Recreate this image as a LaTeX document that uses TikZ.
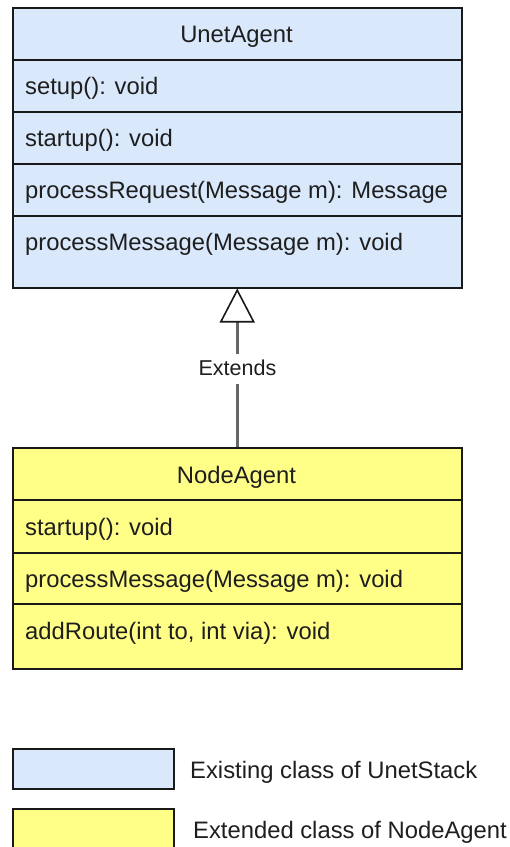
\documentclass[tikz,border=0pt]{standalone}
\usepackage{fontspec}
\setmainfont{Liberation Sans}
\usetikzlibrary{arrows.meta}
\definecolor{ublue}{HTML}{DAE8FC}
\definecolor{uyellow}{HTML}{FFFF88}
\definecolor{txt}{HTML}{1E1E1E}
\definecolor{conn}{HTML}{666666}
\begin{document}
\begin{tikzpicture}[x=1pt,y=-1pt,
  comp/.style={draw=black!90, line width=1.5pt, inner sep=0pt, anchor=north west, minimum width=449pt},
  lbl/.style={font=\fontsize{23.8}{28}\selectfont, text=txt, inner sep=0pt, text height=17pt, text depth=5pt},
  elbl/.style={font=\fontsize{21.5}{26}\selectfont, text=txt, fill=white, inner xsep=1pt, inner ysep=4pt, text height=17pt, text depth=5pt},
  ext/.style={draw=conn, line width=2.6pt, -{Triangle[open, length=34pt, width=35pt, line width=1.6pt, color=black!90]}},
  legbox/.style={draw=black!90, line width=1.5pt, inner sep=0pt, anchor=north west, minimum width=161pt, minimum height=40pt}
]
\useasboundingbox (0,0) rectangle (510,847);
\clip (0,0) rectangle (510,847);

% UnetAgent class
\node[comp, fill=ublue, minimum height=52pt] (u0) at (12,7) {};
\node[comp, fill=ublue, minimum height=52pt] (u1) at (12,59) {};
\node[comp, fill=ublue, minimum height=52pt] (u2) at (12,111) {};
\node[comp, fill=ublue, minimum height=52pt] (u3) at (12,163) {};
\node[comp, fill=ublue, minimum height=72pt] (u4) at (12,215) {};
\node[lbl] (ut) at (236.5,36) {UnetAgent};
\node[lbl, anchor=west] (ua) at (25,88) {setup(): void};
\node[lbl, anchor=west] (ub) at (25,140) {startup(): void};
\node[lbl, anchor=west] (uc) at (25,192) {processRequest(Message m): Message};
\node[lbl, anchor=west] (ud) at (25,244) {processMessage(Message m): void};

% NodeAgent class
\node[comp, fill=uyellow, minimum height=52pt] (n0) at (12,447) {};
\node[comp, fill=uyellow, minimum height=53pt] (n1) at (12,499) {};
\node[comp, fill=uyellow, minimum height=51pt] (n2) at (12,552) {};
\node[comp, fill=uyellow, minimum height=65pt] (n3) at (12,603) {};
\node[lbl] (nt) at (236.5,477) {NodeAgent};
\node[lbl, anchor=west] (na) at (25,529) {startup(): void};
\node[lbl, anchor=west] (nb) at (25,581) {processMessage(Message m): void};
\node[lbl, anchor=west] (nc) at (25,633) {addRoute(int to, int via): void};

% Extends connector
\draw[ext] (n0.north) -- (u4.south);
\node[elbl] (extl) at (237.5,369) {Extends};

% Legend
\node[legbox, fill=ublue] (lg1) at (12,748) {};
\node[legbox, fill=uyellow, minimum height=52pt] (lg2) at (12,808) {};
\node[lbl, anchor=west] (lt1) at (190,772) {Existing class of UnetStack};
\node[lbl, anchor=west] (lt2) at (193,832) {Extended class of NodeAgent};
\end{tikzpicture}
\end{document}
